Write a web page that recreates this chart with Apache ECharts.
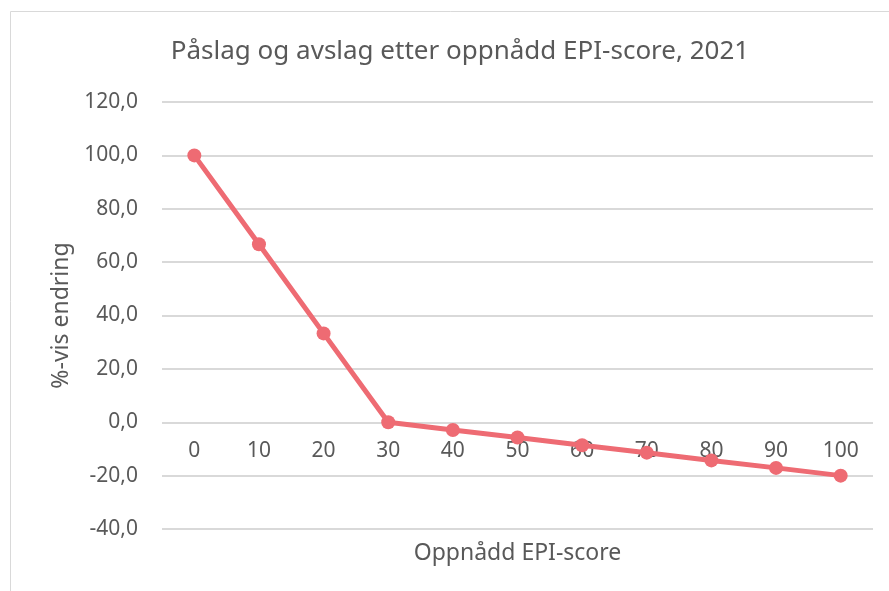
<!DOCTYPE html>
<html>
<head>
<meta charset="utf-8">
<script src="https://cdn.jsdelivr.net/npm/echarts@6/dist/echarts.min.js"></script>
<style>
  html, body { margin: 0; padding: 0; background: #fff; }
  #chart { width: 889px; height: 591px; }
</style>
</head>
<body>
<div id="chart"></div>
<script>
const scores = ['0', '10', '20', '30', '40', '50', '60', '70', '80', '90', '100'];
const change = [100, 66.7, 33.3, 0, -2.9, -5.7, -8.6, -11.4, -14.3, -17.1, -20];

const yMin = -40;
const yMax = 120;
const yStep = 20;

const font = 'Noto Sans';
const textColor = '#595959';

let chart = echarts.init(document.getElementById('chart'));

const option = {
    animation: false,
    graphic: [{
        type: 'rect',
        shape: { x: 10.5, y: 11.5, width: 900, height: 620 },
        style: { fill: 'none', stroke: '#d9d9d9', lineWidth: 1 },
        silent: true
    }],
    title: {
        text: 'Påslag og avslag etter oppnådd EPI-score, 2021',
        left: 455,
        top: 34,
        textAlign: 'center',
        textStyle: { fontFamily: font, fontSize: 26, fontWeight: 'normal', color: textColor }
    },
    grid: {
        left: 162,
        right: 16,
        top: 102,
        bottom: 62,
        outerBoundsMode: 'none'
    },
    xAxis: {
        type: 'category',
        data: scores,
        name: 'Oppnådd EPI-score',
        nameLocation: 'middle',
        nameGap: 13,
        nameTextStyle: { fontFamily: font, fontSize: 23, color: textColor },
        axisLine: { show: false, onZero: false },
        axisTick: { show: false },
        // labels sit just under the zero line, as in the original
        axisLabel: { margin: -88, fontFamily: font, fontSize: 21, color: textColor }
    },
    yAxis: {
        type: 'value',
        min: yMin,
        max: yMax,
        interval: yStep,
        name: '%-vis endring',
        nameLocation: 'middle',
        nameGap: 86,
        nameTextStyle: { fontFamily: font, fontSize: 23, color: textColor },
        axisLine: { show: false },
        axisTick: { show: false },
        splitLine: { lineStyle: { color: '#d9d9d9', width: 2 } },
        axisLabel: {
            margin: 24,
            fontFamily: font,
            fontSize: 21,
            color: textColor,
            formatter: v => v.toFixed(1).replace('.', ',')
        }
    },
    series: [{
        type: 'line',
        data: change,
        symbol: 'circle',
        symbolSize: 14,
        lineStyle: { color: '#ee6b73', width: 5 },
        itemStyle: { color: '#ee6b73' }
    }]
};

chart.setOption(option);
</script>
</body>
</html>
